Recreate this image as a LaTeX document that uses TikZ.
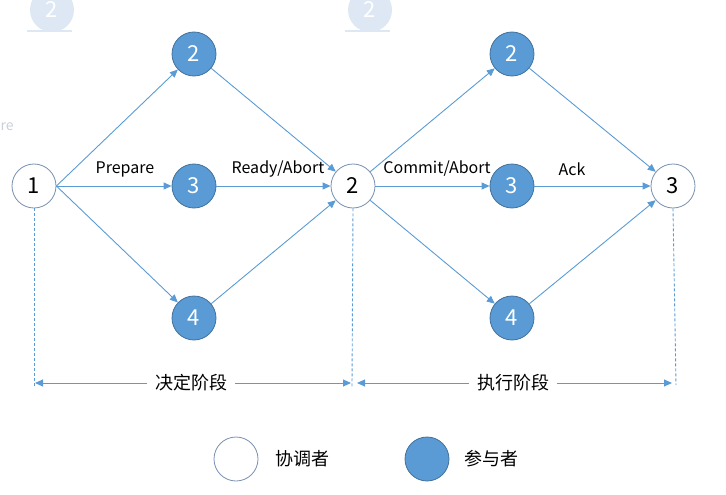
\documentclass[tikz,border=0pt]{standalone}
\usepackage{fontspec}
\setmainfont{Noto Sans CJK SC}
\usetikzlibrary{arrows.meta}
\definecolor{fillblue}{HTML}{5B9BD5}
\definecolor{edgeblue}{HTML}{41719C}
\definecolor{coordedge}{HTML}{7890B0}
\definecolor{lineblue}{HTML}{5B9BD5}
\definecolor{ghostblue}{HTML}{DEE8F5}
\definecolor{ghosttext}{HTML}{C9CFD8}
\begin{document}
\begin{tikzpicture}[x=1pt,y=-1pt,
  coord/.style={circle, draw=coordedge, fill=white, minimum size=44pt, inner sep=0pt, line width=0.8pt, font=\fontsize{22}{22}\selectfont},
  part/.style={circle, draw=edgeblue, fill=fillblue, text=white, minimum size=44pt, inner sep=0pt, line width=0.8pt, font=\fontsize{22}{22}\selectfont},
  ghost/.style={circle, fill=ghostblue, text=white, minimum size=44pt, inner sep=0pt, font=\fontsize{22}{22}\selectfont},
  ghostbar/.style={draw=ghostblue, line width=2pt},
  flow/.style={draw=lineblue, line width=0.9pt, -{Triangle[length=8pt,width=7pt]}},
  guide/.style={draw=lineblue, line width=0.9pt, dash pattern=on 3pt off 2pt},
  span/.style={draw=lineblue, line width=0.9pt, {Triangle[length=8pt,width=7pt]}-{Triangle[length=8pt,width=7pt]}},
  lbl/.style={font=\fontsize{16}{16}\selectfont, inner sep=1pt},
  cjk/.style={font=\fontsize{18}{18}\selectfont, fill=white, inner xsep=8pt, inner ysep=2pt}
]
\useasboundingbox (0,0) rectangle (726,495);

% faint ghost artefacts
\node[ghost] (g1) at (52,10) {2};
\node[ghost] (g2) at (370,10) {2};
\coordinate (gb1a) at (27,31); \coordinate (gb1b) at (72,31);
\coordinate (gb2a) at (345,31); \coordinate (gb2b) at (390,31);
\draw[ghostbar] (gb1a) -- (gb1b);
\draw[ghostbar] (gb2a) -- (gb2b);
\node[font=\fontsize{14}{14}\selectfont, text=ghosttext, anchor=west, inner sep=0pt] (gre) at (0.5,127) {re};

% nodes
\node[coord] (n1) at (34,186) {1};
\node[part] (a2) at (194,54) {2};
\node[part] (a3) at (194,186) {3};
\node[part] (a4) at (194,318) {4};
\node[coord] (c2) at (353,186) {2};
\node[part] (b2) at (512,54) {2};
\node[part] (b3) at (512,186) {3};
\node[part] (b4) at (512,318) {4};
\node[coord] (c3) at (673,186) {3};

% edges
\draw[flow] (n1.east) -- (a2);
\draw[flow] (n1.east) -- (a3);
\draw[flow] (n1.east) -- (a4);
\draw[flow] (a2) -- (c2);
\draw[flow] (a3) -- (c2);
\draw[flow] (a4) -- (c2);
\draw[flow] (c2) -- (b2);
\draw[flow] (c2) -- (b3);
\draw[flow] (c2) -- (b4);
\draw[flow] (b2) -- (c3);
\draw[flow] (b3) -- (c3);
\draw[flow] (b4) -- (c3);

% labels
\node[lbl] (lp) at (125,169) {Prepare};
\node[lbl] (lr) at (278,169) {Ready/Abort};
\node[lbl] (lc) at (437,169) {Commit/Abort};
\node[lbl] (la) at (572,169) {Ack};

% phase guides
\coordinate (d1) at (34,387);
\coordinate (d2) at (352,387);
\coordinate (d3) at (676,385);
\draw[guide] (n1.south) -- (d1);
\draw[guide] (c2.south) -- (d2);
\draw[guide] (c3.south) -- (d3);

\coordinate (s1a) at (35,383);
\coordinate (s1b) at (351,383);
\coordinate (s2a) at (357,383);
\coordinate (s2b) at (672,383);
\draw[span] (s1a) -- (s1b);
\draw[span] (s2a) -- (s2b);
\node[cjk] (p1) at (191,383) {决定阶段};
\node[cjk] (p2) at (513,383) {执行阶段};

% legend
\node[coord, minimum size=44pt] (k1) at (236,459) {};
\node[font=\fontsize{18}{18}\selectfont] (k1t) at (302,459) {协调者};
\node[part, minimum size=44pt] (k2) at (427,459) {};
\node[font=\fontsize{18}{18}\selectfont] (k2t) at (491,459) {参与者};
\end{tikzpicture}
\end{document}
